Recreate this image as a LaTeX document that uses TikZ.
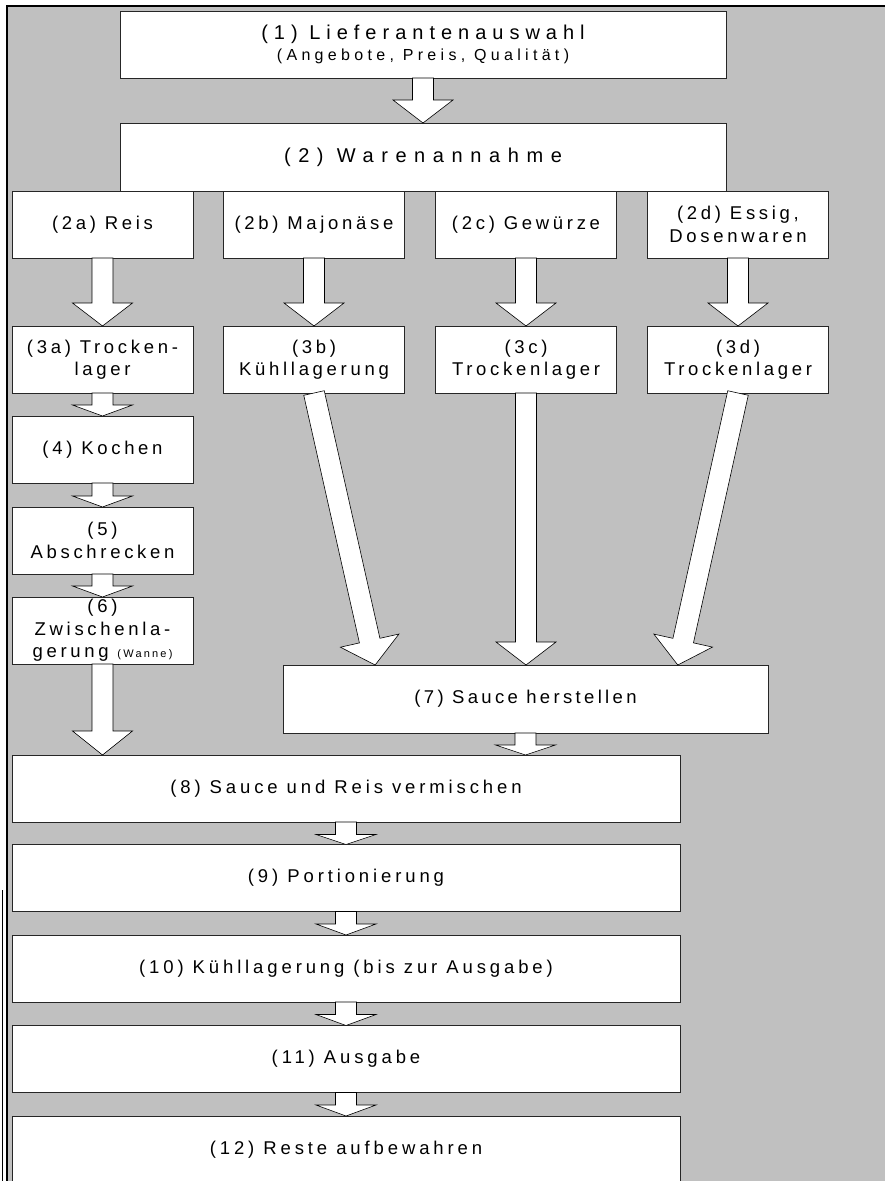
\documentclass[tikz,border=0pt]{standalone}
\usepackage{fontspec}
\setmainfont{Liberation Sans}
\usetikzlibrary{calc}

% letter-spaced sans text at a given size and tracking
\newcommand\sptext[3]{\fontsize{#1}{#2}\selectfont\addfontfeature{LetterSpace=#3}}

% white block arrow from #1 to #2 with a head of length #3
\newcommand\blockarrow[3]{%
  \coordinate (ba) at ($(#2)!#3!(#1)$);
  \filldraw[blockarr]
    ($(#1)!10.5pt!90:(#2)$) -- ($(ba)!10.5pt!90:(#2)$) -- ($(ba)!30pt!90:(#2)$)
    -- (#2)
    -- ($(ba)!30pt!-90:(#2)$) -- ($(ba)!10.5pt!-90:(#2)$) -- ($(#1)!10.5pt!-90:(#2)$)
    -- cycle;
}

\definecolor{panel}{RGB}{192,192,192}

\begin{document}
\begin{tikzpicture}[x=1pt,y=-1pt,
  box/.style={draw=black!85, line width=0.9pt, fill=white, inner sep=0pt, outer sep=0pt,
    align=center, font=\sptext{18.5}{22.5}{20}},
  smallbox/.style={box, minimum width=181pt, minimum height=67pt},
  widebox/.style={box, minimum width=668pt, minimum height=67pt, font=\sptext{18.5}{22.5}{21}},
  blockarr/.style={fill=white, draw=black, line width=0.6pt, line join=miter}]

\useasboundingbox (0,0) rectangle (885,1181);
\clip (0,0) rectangle (885,1181);

% grey panel with its frame
\fill[panel] (7,6) rectangle (890,1190);
\draw[line width=1.6pt] (7,1190) -- (7,6) -- (890,6);
\draw[line width=0.8pt] (2.5,890) -- (2.5,1190);

% top rows
\node[box, minimum width=606pt, minimum height=67pt] (b1) at (423,44.5)
  {{\sptext{20}{24}{30}(1) Lieferantenauswahl}\\[-1pt]{\sptext{16}{18}{27}(Angebote, Preis, Qualität)}};
\node[box, minimum width=606pt, minimum height=68pt, font=\sptext{20}{24}{38}] (b2) at (423,157)
  {(2) Warenannahme};

\node[smallbox] (b2a) at (102.5,224.5) {(2a) Reis};
\node[smallbox] (b2b) at (314,224.5) {(2b) Majonäse};
\node[smallbox] (b2c) at (526,224.5) {(2c) Gewürze};
\node[smallbox] (b2d) at (738,224.5) {(2d) Essig,\\Dosenwaren};

\node[smallbox] (b3a) at (102.5,359.5) {(3a) Trocken-\\lager};
\node[smallbox] (b3b) at (314,359.5) {(3b)\\Kühllagerung};
\node[smallbox] (b3c) at (526,359.5) {(3c)\\Trockenlager};
\node[smallbox] (b3d) at (738,359.5) {(3d)\\Trockenlager};

% rice line
\node[smallbox] (b4) at (102.5,449.5) {(4) Kochen};
\node[smallbox] (b5) at (102.5,540.5) {(5)\\Abschrecken};
\node[smallbox] (b6) at (102.5,630.5)
  {(6)\\Zwischenla-\\gerung {\sptext{11}{12}{20}(Wanne)}};

% sauce
\node[box, minimum width=485pt, minimum height=68pt, font=\sptext{18.5}{22.5}{18}] (b7) at (525.5,699)
  {(7) Sauce herstellen};

% final steps
\node[widebox] (b8) at (346,788.5) {(8) Sauce und Reis vermischen};
\node[widebox] (b9) at (346,878) {(9) Portionierung};
\node[widebox] (b10) at (346,968.5) {(10) Kühllagerung (bis zur Ausgabe)};
\node[widebox] (b11) at (346,1059) {(11) Ausgabe};
\node[widebox] (b12) at (346,1149.5) {(12) Reste aufbewahren};

% arrow end points on box 7
\coordinate (in7b) at ($(b7.north west)!0.19!(b7.north east)$);
\coordinate (in7d) at ($(b7.north west)!0.814!(b7.north east)$);

% connectors
\blockarrow{b1.south}{b2.north}{23pt}
\blockarrow{b2a.south}{b3a.north}{23pt}
\blockarrow{b2b.south}{b3b.north}{23pt}
\blockarrow{b2c.south}{b3c.north}{23pt}
\blockarrow{b2d.south}{b3d.north}{23pt}
\blockarrow{b3a.south}{b4.north}{11pt}
\blockarrow{b4.south}{b5.north}{11pt}
\blockarrow{b5.south}{b6.north}{11pt}
\blockarrow{b6.south}{b6.south |- b8.north}{24pt}
\blockarrow{b3b.south}{in7b}{25pt}
\blockarrow{b3c.south}{b3c.south |- b7.north}{23pt}
\blockarrow{b3d.south}{in7d}{25pt}
\blockarrow{b7.south}{b7.south |- b8.north}{10pt}
\blockarrow{b8.south}{b9.north}{10pt}
\blockarrow{b9.south}{b10.north}{11pt}
\blockarrow{b10.south}{b11.north}{11pt}
\blockarrow{b11.south}{b12.north}{11pt}
\end{tikzpicture}
\end{document}
